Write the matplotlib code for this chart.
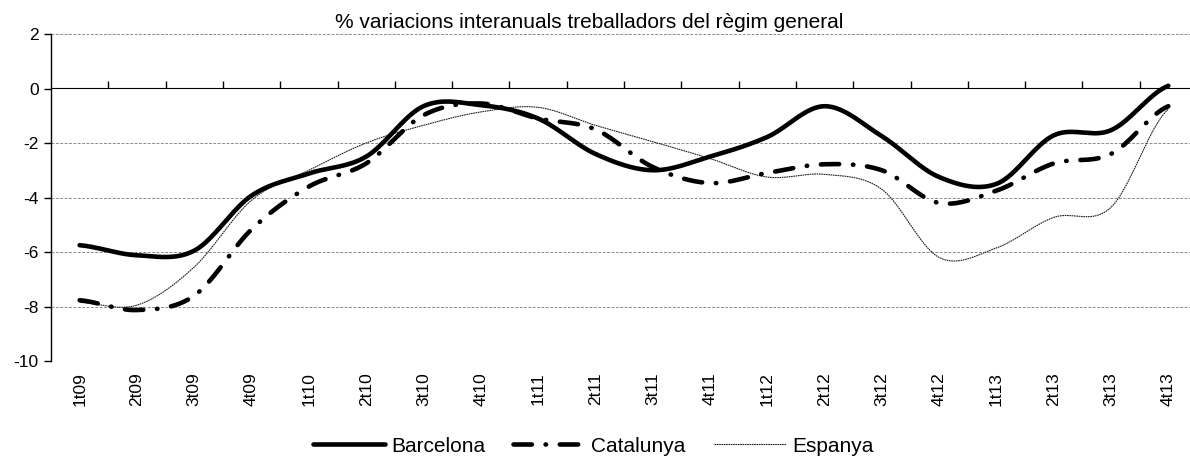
import numpy as np
import matplotlib
matplotlib.use("Agg")
import matplotlib.pyplot as plt

# quarters
quarters = ["1t09", "2t09", "3t09", "4t09", "1t10", "2t10", "3t10", "4t10",
            "1t11", "2t11", "3t11", "4t11", "1t12", "2t12", "3t12", "4t12",
            "1t13", "2t13", "3t13", "4t13"]

barcelona = [-5.75, -6.12, -5.95, -3.93, -3.12, -2.5, -0.65, -0.61,
             -1.1, -2.4, -3.0, -2.5, -1.78, -0.65, -1.75, -3.25,
             -3.5, -1.72, -1.53, 0.1]
catalunya = [-7.77, -8.13, -7.6, -5.17, -3.6, -2.75, -0.98, -0.55,
             -1.1, -1.5, -2.88, -3.47, -3.1, -2.78, -3.0, -4.2,
             -3.75, -2.75, -2.4, -0.65]
espanya = [-7.85, -7.95, -6.55, -4.1, -3.0, -2.0, -1.35, -0.86,
           -0.69, -1.35, -1.95, -2.57, -3.25, -3.15, -3.7, -6.2,
           -5.85, -4.73, -4.36, -0.76]

plt.rcParams['font.family'] = ['Liberation Sans', 'DejaVu Sans']
plt.rcParams['axes.unicode_minus'] = False


def smooth(y, n=20):
    # Catmull-Rom curve like Excel's smoothed line
    y = np.asarray(y, float)
    p = np.concatenate([[y[0]], y, [y[-1]]])
    xs, ys = [], []
    for i in range(len(y) - 1):
        t = np.linspace(0, 1, n, endpoint=False)
        p0, p1, p2, p3 = p[i], p[i + 1], p[i + 2], p[i + 3]
        yy = 0.5 * ((2 * p1) + (-p0 + p2) * t + (2 * p0 - 5 * p1 + 4 * p2 - p3) * t ** 2
                    + (-p0 + 3 * p1 - 3 * p2 + p3) * t ** 3)
        xs.append(i + t)
        ys.append(yy)
    xs.append([len(y) - 1])
    ys.append([y[-1]])
    return np.concatenate(xs), np.concatenate(ys)


W, H = 1190, 461
fig = plt.figure(figsize=(W / 100, H / 100), dpi=100)
left, right, top, bottom = 51, 1197, 34, 361
ax = fig.add_axes([left / W, 1 - bottom / H, (right - left) / W, (bottom - top) / H])

x = np.arange(len(quarters))
xs, ys = smooth(barcelona)
ax.plot(xs, ys, color='black', lw=3.3, solid_capstyle='round', label='Barcelona', zorder=5)
xs, ys = smooth(catalunya)
ax.plot(xs, ys, color='black', lw=3.3, linestyle=(0, (4, 3, 0.1, 3)),
        dash_capstyle='round', label='Catalunya', zorder=4)
xs, ys = smooth(espanya)
ax.plot(xs, ys, color='#202020', lw=0.8, linestyle=(0, (1.5, 0.6)), label='Espanya', zorder=3)

ax.set_xlim(-0.5, len(quarters) - 0.5)
ax.set_ylim(-10, 2)
ax.set_yticks(range(-10, 3, 2))
for v in [2, -2, -4, -6, -8, -10]:
    ax.axhline(v, color='#8c8c8c', lw=0.7, linestyle=(0, (3, 1.5)), zorder=1)

for s in ['top', 'right', 'bottom']:
    ax.spines[s].set_visible(False)
ax.spines['left'].set_linewidth(1.0)
ax.tick_params(axis='y', length=5, width=1.0, labelsize=12.5, pad=4)

ax.set_xticks(x)
ax.set_xticklabels(quarters, rotation=90, fontsize=12.5)
ax.tick_params(axis='x', length=0, pad=8)

# category axis crossing at y = 0 with ticks between categories
sec = ax.secondary_xaxis(10 / 12)
sec.set_xticks(np.arange(0.5, len(quarters) - 0.5, 1))
sec.set_xticklabels([])
sec.tick_params(length=5, width=1.0, direction='out')
sec.spines['bottom'].set_linewidth(1.0)

fig.text(589 / W, 1 - 28 / H, "% variacions interanuals treballadors del règim general",
         ha='center', va='baseline', fontsize=15)

fig.legend(loc='center', bbox_to_anchor=(593 / W, 1 - 446 / H), ncol=3, frameon=False,
           fontsize=15, handlelength=3.45, columnspacing=1.35, handletextpad=0.3,
           borderpad=0)

fig.savefig('out.png', dpi=100)
